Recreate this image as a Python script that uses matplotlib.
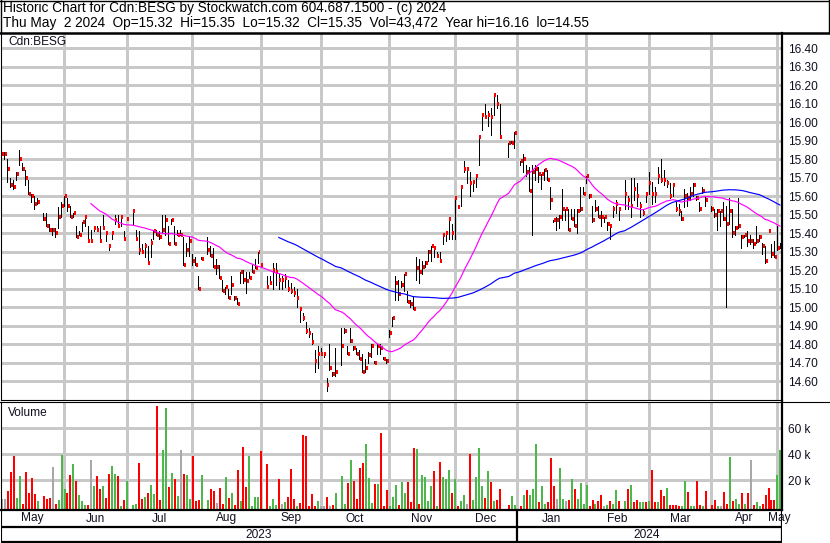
import numpy as np
import pandas as pd
import matplotlib
matplotlib.use("Agg")
from matplotlib import pyplot as plt
from matplotlib.lines import Line2D

plt.rcParams["font.family"] = ["Liberation Sans", "DejaVu Sans"]

# one value per weekday, Wed May 3 2023 .. Thu May 2 2024 (None = market closed)
highs = [
    15.86, 15.84, 15.80, 15.70, 15.69, 15.73, 15.85, 15.78, 15.74, 15.69, 15.61, 15.60, 15.59, None, 15.51, 15.51, 15.45, 15.43, 15.43, 15.54, 15.57,
    15.60, 15.59, 15.55, 15.51, 15.44, 15.41, 15.46, 15.49, 15.44, 15.42, 15.44, 15.44, 15.44, 15.50, 15.40, 15.34, 15.40, 15.50, 15.50, 15.49, 15.41, 15.48,
    None, 15.52, 15.42, 15.41, 15.34, 15.35, 15.33, 15.37, 15.42, 15.42, 15.41, 15.50, 15.50, 15.44, 15.48, 15.44, 15.42, 15.42, 15.38, 15.35, 15.38,
    15.29, 15.27, 15.17, 15.27, None, 15.38, 15.33, 15.32, 15.26, 15.23, 15.15, 15.11, 15.10, 15.17, 15.06, 15.05, 15.19, 15.20, 15.19, 15.19, 15.23, 15.26, 15.30,
    15.24, None, 15.17, 15.17, 15.24, 15.24, 15.18, 15.17, 15.18, 15.15, 15.13, 15.11, 15.10, 15.00, 14.97, 14.92, 14.89, 14.86, 14.77, 14.79, 14.78,
    14.76, 14.62, 14.80, 14.65, 14.78, None, 14.89, 14.89, 14.79, 14.89, 14.79, 14.78, 14.77, 14.75, 14.72, 14.76, 14.80, 14.71, 14.80, 14.80, 14.73, 14.72,
    14.88, 14.95, 15.17, 15.15, 15.14, 15.18, 15.09, 15.04, 15.06, 15.27, 15.26, 15.25, 15.25, 15.31, 15.33, 15.33, 15.30, 15.30, 15.39, 15.40, 15.48, 15.45,
    15.59, 15.55, 15.65, 15.79, 15.75, 15.73, 15.69, 15.71, 15.92, 16.04, 16.10, 16.06, 16.08, 16.16, 16.15, 16.10, None, None, 15.89, 15.90, 15.95,
    None, 15.79, 15.83, 15.77, 15.76, 15.77, 15.77, 15.76, 15.72, 15.75, 15.74, 15.65, 15.47, 15.49, 15.50, 15.64, 15.53, 15.53, 15.53, 15.53, 15.53, 15.65, 15.65,
    15.71, 15.61, 15.55, 15.58, 15.55, 15.52, 15.49, 15.46, 15.45, 15.55, 15.58, 15.54, None, 15.69, 15.60, 15.70, 15.70, 15.67, 15.57, 15.53, 15.62,
    15.73, 15.68, 15.65, 15.76, 15.80, 15.74, 15.69, 15.67, 15.66, 15.57, 15.56, 15.52, 15.64, 15.62, 15.65, 15.67, 15.60, 15.57, 15.65, 15.60, None,
    15.55, 15.53, 15.53, 15.52, 15.57, 15.55, 15.59, 15.53, 15.44, 15.59, 15.39, 15.39, 15.41, 15.39, 15.37, 15.44, 15.39, 15.35, 15.33, 15.41, 15.34, 15.36,
    15.44, 15.35,
]
lows = [
    15.82, 15.80, 15.68, 15.65, 15.64, 15.69, 15.77, 15.74, 15.66, 15.61, 15.57, 15.53, 15.56, None, 15.47, 15.44, 15.41, 15.39, 15.38, 15.43, 15.49,
    15.55, 15.52, 15.49, 15.49, 15.38, 15.39, 15.41, 15.44, 15.36, 15.36, 15.41, 15.42, 15.36, 15.43, 15.36, 15.31, 15.37, 15.45, 15.44, 15.44, 15.37, 15.47,
    None, 15.45, 15.37, 15.29, 15.30, 15.27, 15.24, 15.27, 15.37, 15.39, 15.37, 15.40, 15.39, 15.34, 15.45, 15.34, 15.39, 15.39, 15.23, 15.28, 15.28,
    15.23, 15.23, 15.10, 15.26, None, 15.29, 15.28, 15.22, 15.18, 15.16, 15.09, 15.07, 15.05, 15.07, 15.04, 15.02, 15.13, 15.13, 15.08, 15.16, 15.19, 15.21, 15.24,
    15.22, None, 15.11, 15.13, 15.10, 15.12, 15.10, 15.10, 15.11, 15.09, 15.08, 15.06, 15.00, 14.92, 14.93, 14.86, 14.84, 14.80, 14.65, 14.67, 14.75,
    14.73, 14.55, 14.66, 14.63, 14.63, None, 14.69, 14.86, 14.75, 14.81, 14.77, 14.75, 14.72, 14.65, 14.65, 14.70, 14.73, 14.70, 14.75, 14.75, 14.72, 14.70,
    14.84, 14.90, 15.04, 15.04, 15.11, 15.09, 15.03, 15.00, 14.99, 15.15, 15.13, 15.18, 15.22, 15.25, 15.25, 15.27, 15.27, 15.25, 15.34, 15.36, 15.37, 15.37,
    15.37, 15.54, 15.55, 15.73, 15.67, 15.60, 15.63, 15.65, 15.77, 15.96, 16.03, 15.98, 15.93, 16.04, 16.08, 15.92, None, None, 15.81, 15.89, 15.86,
    None, 15.77, 15.73, 15.71, 15.63, 15.39, 15.69, 15.68, 15.64, 15.69, 15.69, 15.53, 15.46, 15.42, 15.43, 15.47, 15.47, 15.42, 15.48, 15.44, 15.40, 15.52, 15.61,
    15.67, 15.59, 15.46, 15.52, 15.49, 15.44, 15.46, 15.42, 15.37, 15.49, 15.51, 15.47, None, 15.53, 15.53, 15.49, 15.58, 15.55, 15.49, 15.50, 15.57,
    15.61, 15.56, 15.57, 15.67, 15.68, 15.66, 15.65, 15.59, 15.60, 15.52, 15.50, 15.47, 15.54, 15.55, 15.58, 15.60, 15.58, 15.52, 15.62, 15.55, None,
    15.52, 15.49, 15.42, 15.44, 15.47, 15.00, 15.45, 15.38, 15.39, 15.43, 15.32, 15.38, 15.33, 15.34, 15.32, 15.35, 15.36, 15.29, 15.24, 15.41, 15.27, 15.27,
    15.31, 15.32,
]
closes = [
    15.83, 15.83, 15.75, 15.66, 15.65, 15.72, 15.80, 15.75, 15.70, 15.61, 15.60, 15.56, 15.57, None, 15.48, 15.44, 15.42, 15.42, 15.40, 15.49, 15.55,
    15.60, 15.55, 15.49, 15.51, 15.38, 15.39, 15.46, 15.49, 15.36, 15.36, 15.43, 15.42, 15.36, 15.43, 15.40, 15.33, 15.40, 15.47, 15.44, 15.49, 15.37, 15.48,
    None, 15.52, 15.37, 15.31, 15.30, 15.33, 15.24, 15.35, 15.41, 15.39, 15.38, 15.42, 15.47, 15.34, 15.47, 15.34, 15.39, 15.39, 15.23, 15.31, 15.36,
    15.25, 15.23, 15.10, 15.26, None, 15.31, 15.28, 15.22, 15.22, 15.16, 15.09, 15.11, 15.05, 15.12, 15.05, 15.02, 15.19, 15.15, 15.14, 15.16, 15.19, 15.21, 15.30,
    15.23, None, 15.11, 15.13, 15.20, 15.19, 15.15, 15.15, 15.16, 15.10, 15.09, 15.08, 15.05, 14.99, 14.94, 14.87, 14.86, 14.81, 14.71, 14.75, 14.75,
    14.75, 14.58, 14.67, 14.64, 14.65, None, 14.79, 14.87, 14.75, 14.82, 14.78, 14.75, 14.72, 14.65, 14.67, 14.74, 14.79, 14.70, 14.79, 14.78, 14.72, 14.71,
    14.86, 14.94, 15.13, 15.07, 15.12, 15.18, 15.03, 15.02, 14.99, 15.21, 15.19, 15.22, 15.24, 15.30, 15.33, 15.32, 15.28, 15.25, 15.39, 15.40, 15.48, 15.40,
    15.59, 15.54, 15.65, 15.75, 15.75, 15.67, 15.68, 15.71, 15.92, 16.04, 16.03, 16.04, 16.03, 16.15, 16.10, 15.92, None, None, 15.89, 15.89, 15.94,
    None, 15.79, 15.80, 15.73, 15.63, 15.73, 15.75, 15.72, 15.72, 15.74, 15.69, 15.58, 15.47, 15.47, 15.49, 15.53, 15.53, 15.42, 15.48, 15.44, 15.52, 15.53, 15.61,
    15.71, 15.60, 15.47, 15.53, 15.49, 15.49, 15.49, 15.45, 15.44, 15.53, 15.56, 15.53, None, 15.61, 15.58, 15.55, 15.64, 15.60, 15.55, 15.51, 15.61,
    15.67, 15.61, 15.61, 15.71, 15.69, 15.69, 15.67, 15.60, 15.66, 15.53, 15.52, 15.48, 15.60, 15.59, 15.61, 15.66, 15.59, 15.53, 15.63, 15.58, None,
    15.53, 15.50, 15.52, 15.52, 15.48, 15.45, 15.52, 15.40, 15.43, 15.44, 15.38, 15.39, 15.36, 15.36, 15.34, 15.36, 15.38, 15.33, 15.25, 15.41, 15.29, 15.27,
    15.32, 15.35,
]
# volume in thousands of shares
volumes = [
    5.6, 5.6, 11.8, 26.6, 38.7, 6.6, 23.3, 2.0, 26.6, 10.5, 22.0, 9.2, 4.0, None, 8.2, 5.4, 6.4, 30.5, 2.0, 4.9, 39.5,
    13.3, 10.5, 24.0, 32.5, 19.5, 8.7, 4.0, 1.0, 1.0, 35.6, 15.6, 23.5, 13.3, 15.9, 6.6, 24.8, 31.0, 24.8, 23.5, 0.5, 4.9, 19.5,
    None, 1.0, 1.5, 33.6, 5.6, 7.4, 10.5, 16.4, 9.2, 77.0, 4.9, 43.0, 75.9, 15.0, 26.0, 21.0, 8.0, 43.0, 24.8, 24.0, 5.6,
    38.7, 4.0, 4.9, 24.0, None, 4.9, 13.3, 11.8, 2.3, 13.8, 2.0, 22.8, 6.1, 10.0, 1.0, 28.0, 4.0, 46.0, 15.0, 38.7, 0.2, 7.2, 7.2,
    42.5, None, 32.5, 0.5, 6.0, 1.0, 21.0, 1.8, 3.0, 7.2, 28.7, 6.0, 0.3, 2.3, 55.0, 54.0, 0.3, 9.5, 0.3, 4.0, 0.3,
    0.3, 7.2, 0.3, 1.0, 10.5, None, 23.3, 2.0, 18.2, 35.6, 19.5, 5.6, 29.7, 33.6, 47.6, 22.0, 2.3, 17.0, 17.0, 56.0, 0.3, 12.5,
    0.3, 7.4, 16.4, 1.0, 18.4, 10.5, 18.4, 3.6, 45.0, 44.0, 2.0, 24.0, 22.8, 4.0, 15.6, 27.0, 0.3, 34.0, 22.8, 21.0, 28.0, 10.5,
    21.0, 0.3, 4.0, 8.7, 2.0, 40.0, 4.6, 22.5, 45.0, 15.9, 6.6, 27.0, 18.4, 4.0, 4.9, 13.3, None, None, 1.0, 7.9, 1.0,
    None, 0.3, 8.7, 12.5, 8.7, 13.3, 47.6, 3.6, 15.6, 2.0, 3.6, 37.4, 15.6, 6.0, 29.7, 6.0, 4.0, 4.9, 21.0, 13.3, 5.6, 18.2, 2.0,
    16.4, 0.3, 4.9, 2.0, 4.0, 8.7, 0.3, 1.0, 4.0, 2.0, 12.5, 4.0, None, 4.0, 13.3, 16.4, 3.0, 4.9, 3.0, 3.6, 3.0,
    4.0, 28.0, 3.0, 3.0, 12.5, 8.0, 13.8, 1.0, 1.0, 1.0, 0.5, 0.5, 19.5, 11.0, 0.3, 0.5, 19.5, 1.0, 0.3, 11.8, None,
    1.0, 4.9, 0.5, 0.3, 11.0, 2.0, 38.0, 4.0, 6.0, 2.0, 10.5, 2.0, 10.5, 35.6, 1.0, 3.0, 0.3, 2.0, 8.7, 14.0, 5.0, 5.0,
    24.0, 43.472,
]
# volume bar colour: g = close up, r = close down, n = unchanged, - = closed
vol_dir = (
    "nnrrrggrrrrrg-rrrnrgg"
    "grrgrgggrngrrgrrggrgrg"
    "-ggrrgrggrrggrgrgnrgg"
    "rrrg-grrnrrgrgrrgrrgggg"
    "r-rgggrngrrrgrrrrrrgn"
    "nrnrg-ggrgrrrrgggrgrrr"
    "gggrggrrrgrggggrgrgggr"
    "grggnrggggrgrgrr--rgg"
    "-rgrgggrggrrrnggnrgrggg"
    "grrgrrngrggr-grgrrggr"
    "grrgrrgrrrrggrggrrgr-"
    "rrgnrrgrggrgrnrggrrrrr"
    "gg"
)
month_names = ["May", "Jun", "Jul", "Aug", "Sep", "Oct", "Nov", "Dec",
               "Jan", "Feb", "Mar", "Apr", "May"]
years = ["2023", "2024"]

W, H = 830, 543
fig = plt.figure(figsize=(W / 100, H / 100), dpi=100)

def box(x0, y0, x1, y1):
    return [x0 / W, 1 - y1 / H, (x1 - x0) / W, (y1 - y0) / H]

day0 = pd.Timestamp("2023-05-01")          # weekday index 0
days = pd.bdate_range("2023-05-03", "2024-05-02")
x = np.arange(2, 2 + len(days))
hi = np.array(highs, dtype=float)
lo = np.array(lows, dtype=float)
cl = np.array(closes, dtype=float)
vol = np.array(volumes, dtype=float) * 1000
ok = ~np.isnan(cl)

# month boundaries (weekend starts fall back to the previous Friday)
mstarts = pd.date_range("2023-06-01", "2024-05-01", freq="MS")
mpos = []
for m in mstarts:
    p = np.busday_count(day0.date(), m.date())
    if m.weekday() >= 5:
        p -= 1
    mpos.append(p)
xl = ((0.5 + 4.6) / 2.983, (782 + 4.6) / 2.983)
edges = [xl[0]] + mpos + [xl[1]]

grid_c = "#c8c8c8"
txt_c = "#101020"
fs = 8.6

# price panel
ax = fig.add_axes(box(0.5, 33, 782, 400))
ax.set_xlim(xl)
ax.set_ylim(14.499, 16.483)
ax.set_yticks(np.round(np.arange(14.6, 16.41, 0.1), 2))
ax.set_yticklabels([f"{v:.2f}" for v in np.arange(14.6, 16.41, 0.1)])
ax.yaxis.tick_right()
ax.set_xticks(mpos)
ax.tick_params(axis="x", length=0, labelbottom=False)
ax.tick_params(axis="y", length=0, pad=4.5, labelsize=fs, labelcolor=txt_c)
ax.grid(color=grid_c, lw=0.8, antialiased=False)
ax.set_axisbelow(True)
ax.spines["top"].set_visible(False)
ax.spines["left"].set_linewidth(0.8)
ax.spines["bottom"].set_linewidth(0.8)
ax.spines["right"].set_linewidth(1.6)

ax.vlines(x[ok], lo[ok], hi[ok], colors="black", lw=0.6, antialiased=False)
ax.hlines(cl[ok], x[ok] + 0.2, x[ok] + 0.87, colors="red", lw=1.45, antialiased=False)

s = pd.Series(cl[ok])
ax.plot(x[ok], s.rolling(30).mean(), color="#ff00ff", lw=0.85)
ax.plot(x[ok], s.rolling(90).mean(), color="#0000ff", lw=0.85)
ax.text(8 / W, 1 - 42 / H, "Cdn:BESG", transform=fig.transFigure,
        fontsize=fs, color=txt_c, va="center", ha="left")

# volume panel
vax = fig.add_axes(box(0.5, 402, 782, 509.5))
vax.set_xlim(xl)
vbot = -2460
vax.set_ylim(vbot, 80230)
vax.set_yticks([20000, 40000, 60000])
vax.set_yticklabels(["20 k", "40 k", "60 k"])
vax.yaxis.tick_right()
vax.set_xticks(mpos)
vax.tick_params(axis="x", length=0, labelbottom=False)
vax.tick_params(axis="y", length=0, pad=4.5, labelsize=fs, labelcolor=txt_c)
vax.grid(color=grid_c, lw=0.8, antialiased=False)
vax.set_axisbelow(True)
vax.spines["top"].set_visible(False)
vax.spines["left"].set_linewidth(0.8)
vax.spines["right"].set_linewidth(1.6)
vax.spines["bottom"].set_linewidth(1.6)
cmap = {"g": "#4cb84c", "r": "#ff0000", "n": "#a8a8a8"}
vcol = [cmap[c] for c in vol_dir if c != "-"]
vax.bar(x[ok] + 0.17, vol[ok] - vbot, bottom=vbot, width=0.67,
        color=vcol, linewidth=0, antialiased=False)
vax.text(8 / W, 1 - 413 / H, "Volume", transform=fig.transFigure,
         fontsize=fs, color=txt_c, va="center", ha="left")

# date rows
dax = fig.add_axes(box(0.5, 509.5, 782, 543))
dax.set_xlim(xl)
dax.set_ylim(543, 509.5)
dax.axis("off")
dax.axhline(526.5, color="black", lw=1.6)
dax.axhline(541.6, color="black", lw=1.6)
dax.axvline(xl[0], color="black", lw=0.8)
dax.axvline(xl[1], color="black", lw=1.6)
jan = mpos[7]
dax.plot([jan, jan], [509.5, 542.5], color="black", lw=1.6)
for k, name in enumerate(month_names):
    dax.text((edges[k] + edges[k + 1]) / 2, 518.5, name, fontsize=fs,
             color=txt_c, ha="center", va="center")
dax.text((xl[0] + jan) / 2, 534.5, years[0], fontsize=fs, color=txt_c,
         ha="center", va="center")
dax.text((jan + mpos[-1]) / 2, 534.5, years[1], fontsize=fs, color=txt_c,
         ha="center", va="center")

# header box and separators
def fline(x0, y0, x1, y1, lw):
    fig.add_artist(Line2D([x0 / W, x1 / W], [1 - y0 / H, 1 - y1 / H],
                          color="black", lw=lw, transform=fig.transFigure))

fline(0, 32.5, W, 32.5, 1.8)
fline(0, 0.5, W, 0.5, 1.0)
fline(0.5, 0, 0.5, 33, 1.0)
fline(829.3, 0, 829.3, 33, 1.0)
fline(0, 401.8, W, 401.8, 0.8)

hfs = 9.8
fig.text(3 / W, 1 - 8 / H,
         "Historic Chart for Cdn:BESG by Stockwatch.com 604.687.1500 - (c) 2024",
         fontsize=hfs, color="black", va="center", ha="left")
fig.text(3 / W, 1 - 23 / H,
         "Thu May  2 2024  Op=15.32  Hi=15.35  Lo=15.32  Cl=15.35  Vol=43,472  Year hi=16.16  lo=14.55",
         fontsize=hfs, color="black", va="center", ha="left")

fig.savefig("out.png", dpi=100)
